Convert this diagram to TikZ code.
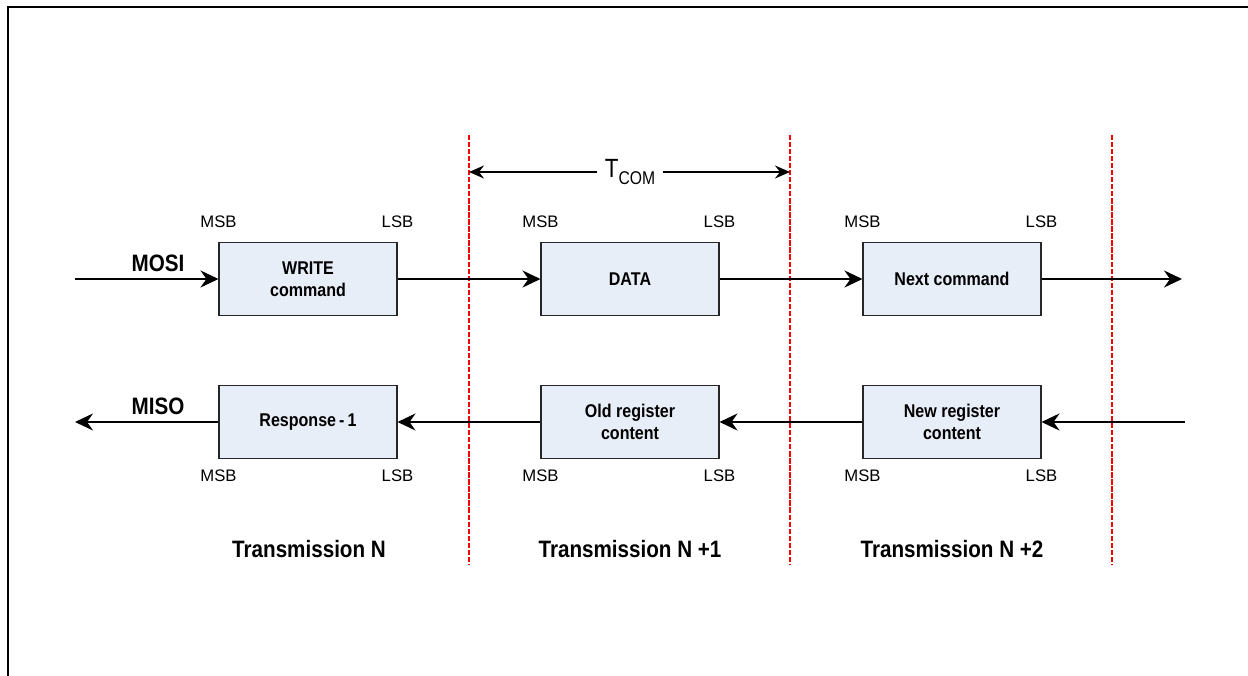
\documentclass[tikz,border=0pt]{standalone}
\usepackage{fontspec}
\setmainfont[BoldFeatures={FakeStretch=0.87}]{Liberation Sans}
\newfontfamily\narrowfont[FakeStretch=0.85]{Liberation Sans}
\usetikzlibrary{arrows.meta, positioning}
\definecolor{regfill}{RGB}{232,238,248}
\tikzset{arrow/.style = {line width=1.4pt,-{Stealth[length=3.6mm,width=3.4mm,inset=1.2mm]}}}
\tikzset{regbox/.style = {draw=black!85, fill=regfill, line width=0.6pt, minimum width=3.56cm, minimum height=1.46cm, align=center, font=\bfseries\fontsize{10.5}{12.5}\selectfont}}
\tikzset{bitlbl/.style = {inner sep=0pt, font=\fontsize{9.5}{11}\selectfont}}
\tikzset{sigtxt/.style = {inner sep=0pt, font=\bfseries\fontsize{13.5}{15}\selectfont}}
\tikzset{framesep/.style = {draw=red, line width=0.7pt, dash pattern=on 3pt off 1pt}}

\begin{document}
\begin{tikzpicture}[x=0.02cm,y=-0.02cm]
\useasboundingbox (0,0) rectangle (1248,676);
% frame
\draw[line width=1.4pt] (8,676) -- (8,7) -- (1248,7);

% transmission boundaries
\coordinate (b1 top) at (469,135);
\coordinate (b1 bot) at (469,565);
\coordinate (b2 top) at (790,135);
\coordinate (b2 bot) at (790,565);
\coordinate (b3 top) at (1112,135);
\coordinate (b3 bot) at (1112,565);
\draw[framesep] (b1 top) -- (b1 bot);
\draw[framesep] (b2 top) -- (b2 bot);
\draw[framesep] (b3 top) -- (b3 bot);

% T_COM
\coordinate (tcom l) at (469,172);
\coordinate (tcom r) at (790,172);
\node[fill=white, inner xsep=4pt, font=\narrowfont\fontsize{15}{17}\selectfont] (tcom) at (630,172) {T\raisebox{-0.5ex}{\fontsize{10.5}{12}\selectfont COM}};
\draw[line width=1pt,-{Stealth[length=3mm,width=2.6mm,inset=1mm]}] (tcom) -- (tcom l);
\draw[line width=1pt,-{Stealth[length=3mm,width=2.6mm,inset=1mm]}] (tcom) -- (tcom r);

% MOSI row
\node[regbox] (write) at (308,279) {WRITE\\command};
\node[regbox] (data) at (630,279) {DATA};
\node[regbox] (next) at (952,279) {Next command};
\coordinate (mosi in) at (75,279);
\coordinate (mosi out) at (1182,279);
\node[sigtxt] (mosi) at (158,263) {MOSI};
\draw[arrow] (mosi in) -- (write);
\draw[arrow] (write) -- (data);
\draw[arrow] (data) -- (next);
\draw[arrow] (next) -- (mosi out);

% MISO row
\node[regbox] (resp) at (308,422) {Response\,-\,1};
\node[regbox] (old) at (630,422) {Old register\\content};
\node[regbox] (new) at (952,422) {New register\\content};
\coordinate (miso in) at (1185,422);
\coordinate (miso out) at (75,422);
\node[sigtxt] (miso) at (158,406) {MISO};
\draw[arrow] (miso in) -- (new);
\draw[arrow] (new) -- (old);
\draw[arrow] (old) -- (resp);
\draw[arrow] (resp) -- (miso out);

% bit order labels
\node[bitlbl, above=2.8mm of write.north west] (write msb) {MSB};
\node[bitlbl, above=2.8mm of write.north east] (write lsb) {LSB};
\node[bitlbl, above=2.8mm of data.north west] (data msb) {MSB};
\node[bitlbl, above=2.8mm of data.north east] (data lsb) {LSB};
\node[bitlbl, above=2.8mm of next.north west] (next msb) {MSB};
\node[bitlbl, above=2.8mm of next.north east] (next lsb) {LSB};
\node[bitlbl, below=2mm of resp.south west] (resp msb) {MSB};
\node[bitlbl, below=2mm of resp.south east] (resp lsb) {LSB};
\node[bitlbl, below=2mm of old.south west] (old msb) {MSB};
\node[bitlbl, below=2mm of old.south east] (old lsb) {LSB};
\node[bitlbl, below=2mm of new.south west] (new msb) {MSB};
\node[bitlbl, below=2mm of new.south east] (new lsb) {LSB};

% transmissions
\node[sigtxt] (tr n) at (309,549) {Transmission N};
\node[sigtxt] (tr n1) at (630,549) {Transmission N +1};
\node[sigtxt] (tr n2) at (952,549) {Transmission N +2};
\end{tikzpicture}
\end{document}
